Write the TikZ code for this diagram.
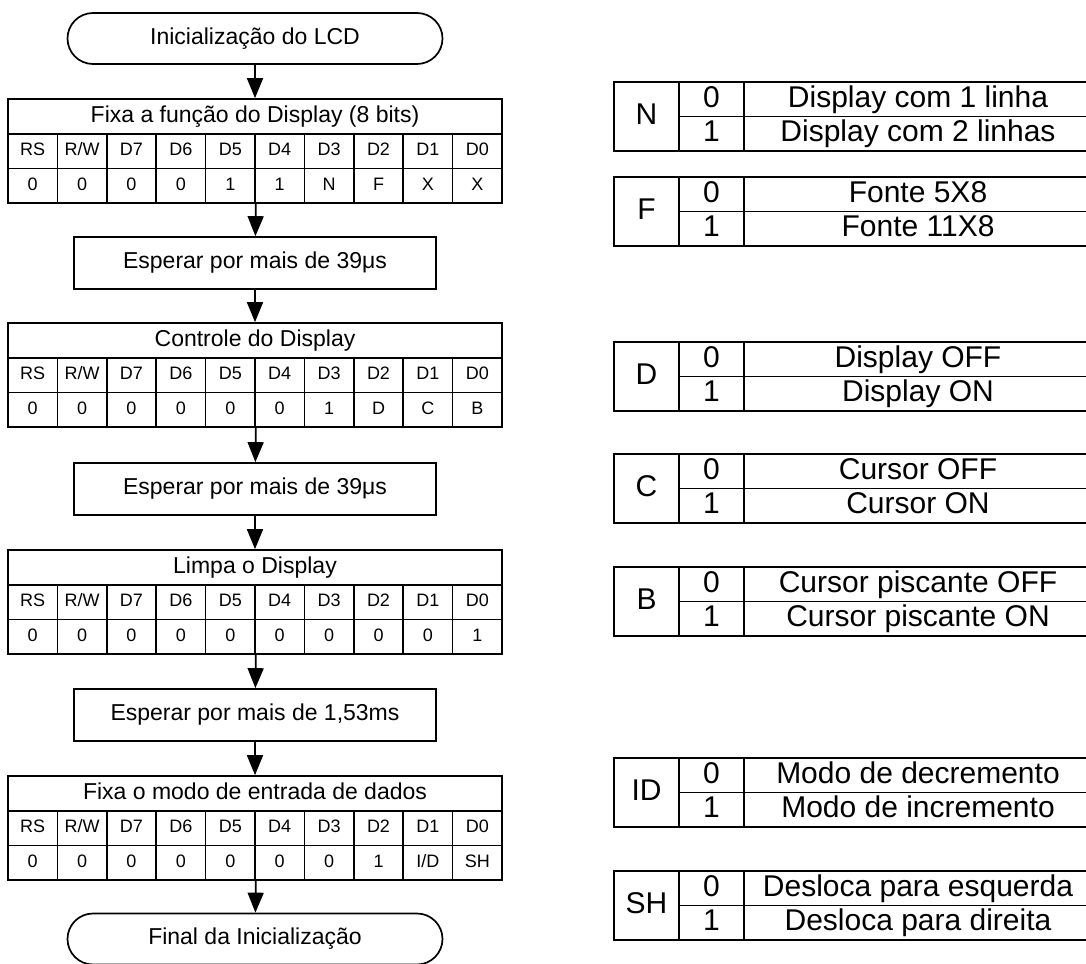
\documentclass[tikz,border=0pt]{standalone}
\usepackage{fontspec}
\setmainfont{Liberation Sans}
\usetikzlibrary{positioning, shapes.misc, arrows.meta}

\begin{document}
\begin{tikzpicture}[x=1pt, y=-1pt, line width=1.7pt,
    fbig/.style={font=\fontsize{23}{26}\selectfont, text height=16.5pt, text depth=4.8pt},
    fsmall/.style={font=\fontsize{18}{21}\selectfont, text height=12.9pt, text depth=3.7pt},
    flarge/.style={font=\fontsize{30}{34}\selectfont, text height=21.6pt, text depth=6pt},
    term/.style={rounded rectangle, draw, fbig, minimum width=375pt, minimum height=51pt, inner sep=0pt},
    waitbox/.style={draw, fbig, minimum width=362pt, minimum height=52pt, inner sep=0pt},
    regtitle/.style={draw, fbig, minimum width=494pt, minimum height=35pt, inner sep=0pt},
    cell/.style={draw, fsmall, minimum width=49.4pt, minimum height=34.5pt, inner sep=0pt},
    bitname/.style={draw, flarge, minimum width=65pt, minimum height=69pt, inner sep=0pt},
    bitval/.style={draw, flarge, minimum width=65pt, minimum height=34.5pt, inner sep=0pt},
    desc/.style={draw, flarge, minimum width=348pt, minimum height=34.5pt, inner sep=0pt},
    flowarrow/.style={-{Triangle[width=16pt,length=20pt]}}]

\useasboundingbox (0,0) rectangle (1086,963);
\clip (0,0) rectangle (1086,963);

% Start and end of the flow
\node[term] (start) at (255,38.5) {Inicialização do LCD};
\node[term] (stop) at (255,939) {Final da Inicialização};

% Register tables (title, bit names, bit values)
\node[regtitle] (t1) at (255,116.5) {Fixa a função do Display (8 bits)};
\node[regtitle] (t2) at (255,340.5) {Controle do Display};
\node[regtitle] (t3) at (255,567.5) {Limpa o Display};
\node[regtitle] (t4) at (255,793.5) {Fixa o modo de entrada de dados};
\foreach \n/\T/\vals in {1/99/{0,0,0,0,1,1,N,F,X,X}, 2/323/{0,0,0,0,0,0,1,D,C,B},
                         3/550/{0,0,0,0,0,0,0,0,0,1}, 4/776/{0,0,0,0,0,0,0,1,I/D,SH}} {
    \foreach \b [count=\i] in {RS,R/W,D7,D6,D5,D4,D3,D2,D1,D0}
        \node[cell] (h\n-\i) at ({8+49.4*(\i-0.5)},\T+52.25) {\b};
    \foreach \v [count=\i] in \vals
        \node[cell] (v\n-\i) at ({8+49.4*(\i-0.5)},\T+86.75) {\v};
}

% Waiting steps
\node[waitbox] (w1) at (255,263) {Esperar por mais de 39μs};
\node[waitbox] (w2) at (255,489) {Esperar por mais de 39μs};
\node[waitbox] (w3) at (255,715) {Esperar por mais de 1,53ms};

% Arrows
\draw[flowarrow] (start) -- (t1);
\draw[flowarrow] (v1-5.south east) -- (w1);
\draw[flowarrow] (w1) -- (t2);
\draw[flowarrow] (v2-5.south east) -- (w2);
\draw[flowarrow] (w2) -- (t3);
\draw[flowarrow] (v3-5.south east) -- (w3);
\draw[flowarrow] (w3) -- (t4);
\draw[flowarrow] (v4-5.south east) -- (stop);

% Meaning of the bits
\foreach \k/\T/\da/\db in {N/82/Display com 1 linha/Display com 2 linhas,
                           F/177/Fonte 5X8/Fonte 11X8,
                           D/342/Display OFF/Display ON,
                           C/454/Cursor OFF/Cursor ON,
                           B/567/Cursor piscante OFF/Cursor piscante ON,
                           ID/758/Modo de decremento/Modo de incremento,
                           SH/871/Desloca para esquerda/Desloca para direita} {
    \node[bitname] (k\k) at (646.5,\T+34.5) {\k};
    \node[bitval] (k\k0) at (711.5,\T+17.25) {0};
    \node[bitval] (k\k1) at (711.5,\T+51.75) {1};
    \node[desc] (d\k0) at (918,\T+17.25) {\da};
    \node[desc] (d\k1) at (918,\T+51.75) {\db};
}

\end{tikzpicture}
\end{document}
